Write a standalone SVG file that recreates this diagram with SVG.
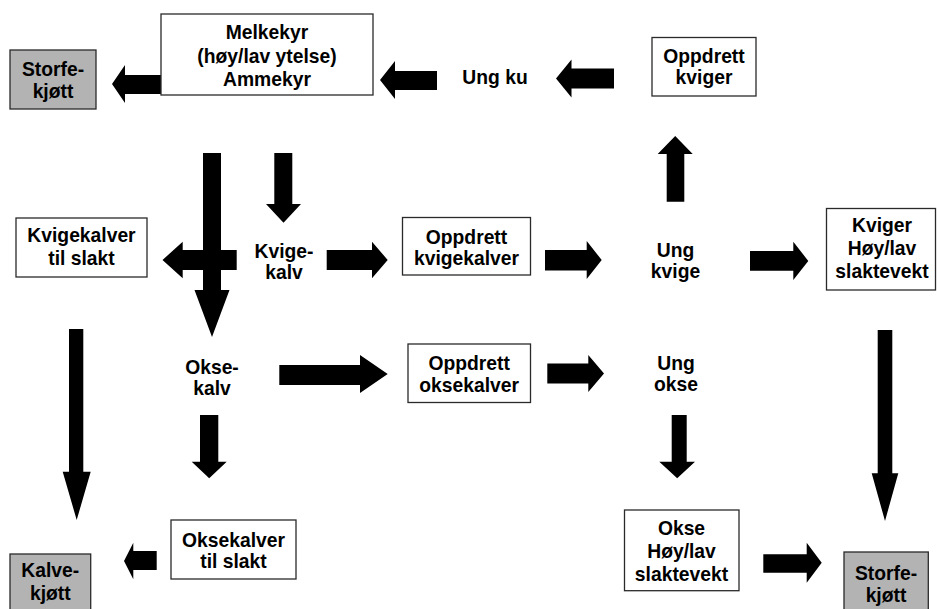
<svg xmlns="http://www.w3.org/2000/svg" width="937" height="609" viewBox="0 0 937 609">
  <style>
    .box { fill: #ffffff; stroke: #2a2a2a; stroke-width: 1.3; }
    .meat { fill: #b3b3b3; stroke: #2a2a2a; stroke-width: 1.3; }
    .lbl { font-family: "Liberation Sans", Arial, Helvetica, sans-serif; font-weight: bold; font-size: 19.3px; fill: #000; text-anchor: middle; }
    .arrow { fill: #000; stroke: none; }
  </style>

  <!-- block arrows: shaft + triangular head -->
  <g id="connectors">
    <!-- Melkekyr -> Storfekjøtt -->
    <polygon class="arrow" points="162,75 125,75 125,65 112,84 125,103 125,94 162,94"/>
    <!-- Ung ku -> Melkekyr -->
    <polygon class="arrow" points="437,71 395,71 395,61 380,80 395,99 395,90 437,90"/>
    <!-- Oppdrett kviger -> Ung ku -->
    <polygon class="arrow" points="614,68.5 571.5,68.5 571.5,59.5 556,78.5 571.5,97.5 571.5,88.5 614,88.5"/>
    <!-- Ung kvige -> Oppdrett kviger -->
    <polygon class="arrow" points="666.7,201.7 666.7,154 657.7,154 675.2,136 692.7,154 684.3,154 684.3,201.7"/>
    <!-- Melkekyr -> Oksekalv -->
    <polygon class="arrow" points="203,153 221,153 221,290 229.5,290 212,337 194.5,290 203,290"/>
    <!-- Melkekyr -> Kvigekalv -->
    <polygon class="arrow" points="274.3,153 292.3,153 292.3,204 301,204 283.5,222.7 266,204 274.3,204"/>
    <!-- Kvigekalv -> Kvigekalver til slakt -->
    <polygon class="arrow" points="236.7,250 182.7,250 182.7,241.7 162.5,260 182.7,278.3 182.7,270 236.7,270"/>
    <!-- Kvigekalv -> Oppdrett kvigekalver -->
    <polygon class="arrow" points="326.7,250 372,250 372,241.7 387.7,260 372,278.3 372,270 326.7,270"/>
    <!-- Oppdrett kvigekalver -> Ung kvige -->
    <polygon class="arrow" points="545,250 586.7,250 586.7,241 601.7,260 586.7,279 586.7,270.5 545,270.5"/>
    <!-- Ung kvige -> Kviger slaktevekt -->
    <polygon class="arrow" points="750,251 793.3,251 793.3,241.7 808.3,261 793.3,280 793.3,270.7 750,270.7"/>
    <!-- Oksekalv -> Oppdrett oksekalver -->
    <polygon class="arrow" points="279.3,365 360,365 360,355 387.7,374 360,393 360,385 279.3,385"/>
    <!-- Oppdrett oksekalver -> Ung okse -->
    <polygon class="arrow" points="547.3,363.5 588.3,363.5 588.3,355 604,373.5 588.3,392 588.3,383.5 547.3,383.5"/>
    <!-- Oksekalv -> Oksekalver til slakt -->
    <polygon class="arrow" points="200,415 218.3,415 218.3,461.7 226.7,461.7 209.2,478.3 191.7,461.7 200,461.7"/>
    <!-- Kvigekalver til slakt -> Kalvekjøtt -->
    <polygon class="arrow" points="69,329 83.3,329 83.3,471.7 90.7,471.7 76.7,520 62.7,471.7 69,471.7"/>
    <!-- Oksekalver til slakt -> Kalvekjøtt -->
    <polygon class="arrow" points="156.7,551 133.3,551 133.3,542.7 124,561 133.3,579.3 133.3,570 156.7,570"/>
    <!-- Ung okse -> Okse slaktevekt -->
    <polygon class="arrow" points="671.7,415 686.7,415 686.7,461.7 695,461.7 677.2,478.3 659.3,461.7 671.7,461.7"/>
    <!-- Kviger slaktevekt -> Storfekjøtt -->
    <polygon class="arrow" points="877.7,330 892.3,330 892.3,473.3 898.3,473.3 885,521 871.7,473.3 877.7,473.3"/>
    <!-- Okse slaktevekt -> Storfekjøtt -->
    <polygon class="arrow" points="763.3,554.3 806.7,554.3 806.7,542.7 821.7,562.7 806.7,582.7 806.7,572.7 763.3,572.7"/>
  </g>

  <g id="storfekjott-top">
    <rect class="meat" x="10" y="50" width="86" height="59"/>
    <text class="lbl" x="53" y="76">Storfe-</text>
    <text class="lbl" x="53" y="98">kjøtt</text>
  </g>

  <g id="melkekyr">
    <rect class="box" x="161" y="14" width="212" height="81"/>
    <text class="lbl" x="267" y="39">Melkekyr</text>
    <text class="lbl" x="267" y="63">(høy/lav ytelse)</text>
    <text class="lbl" x="267" y="86">Ammekyr</text>
  </g>

  <g id="ung-ku">
    <text class="lbl" x="495" y="83.5">Ung ku</text>
  </g>

  <g id="oppdrett-kviger">
    <rect class="box" x="652" y="37.5" width="104" height="58.5"/>
    <text class="lbl" x="704" y="62.5">Oppdrett</text>
    <text class="lbl" x="704" y="83.5">kviger</text>
  </g>

  <g id="kvigekalver-slakt">
    <rect class="box" x="16" y="218" width="131" height="59"/>
    <text class="lbl" x="81.5" y="242">Kvigekalver</text>
    <text class="lbl" x="81.5" y="265">til slakt</text>
  </g>

  <g id="kvigekalv">
    <text class="lbl" x="284" y="257.5">Kvige-</text>
    <text class="lbl" x="284" y="278.5">kalv</text>
  </g>

  <g id="oppdrett-kvigekalver">
    <rect class="box" x="402.5" y="217.5" width="128" height="57.5"/>
    <text class="lbl" x="466.5" y="243.5">Oppdrett</text>
    <text class="lbl" x="466.5" y="264.5">kvigekalver</text>
  </g>

  <g id="ung-kvige">
    <text class="lbl" x="675.5" y="257">Ung</text>
    <text class="lbl" x="675.5" y="278">kvige</text>
  </g>

  <g id="kviger-slaktevekt">
    <rect class="box" x="826.5" y="208.5" width="109" height="81.5"/>
    <text class="lbl" x="882" y="232">Kviger</text>
    <text class="lbl" x="882" y="255">Høy/lav</text>
    <text class="lbl" x="882" y="278">slaktevekt</text>
  </g>

  <g id="oksekalv">
    <text class="lbl" x="212" y="374">Okse-</text>
    <text class="lbl" x="212" y="395">kalv</text>
  </g>

  <g id="oppdrett-oksekalver">
    <rect class="box" x="408" y="344" width="122.5" height="58.5"/>
    <text class="lbl" x="469.2" y="369.5">Oppdrett</text>
    <text class="lbl" x="469.2" y="391.5">oksekalver</text>
  </g>

  <g id="ung-okse">
    <text class="lbl" x="676" y="370">Ung</text>
    <text class="lbl" x="676" y="391">okse</text>
  </g>

  <g id="oksekalver-slakt">
    <rect class="box" x="171" y="520" width="125" height="59"/>
    <text class="lbl" x="233.5" y="546.5">Oksekalver</text>
    <text class="lbl" x="233.5" y="568">til slakt</text>
  </g>

  <g id="kalvekjott">
    <rect class="meat" x="10" y="554" width="80.7" height="60"/>
    <text class="lbl" x="50.3" y="577">Kalve-</text>
    <text class="lbl" x="50.3" y="600">kjøtt</text>
  </g>

  <g id="okse-slaktevekt">
    <rect class="box" x="624.5" y="510" width="114.5" height="80.7"/>
    <text class="lbl" x="681.5" y="534.5">Okse</text>
    <text class="lbl" x="681.5" y="558">Høy/lav</text>
    <text class="lbl" x="681.5" y="581">slaktevekt</text>
  </g>

  <g id="storfekjott-bottom">
    <rect class="meat" x="844" y="552" width="84.3" height="62"/>
    <text class="lbl" x="886" y="580">Storfe-</text>
    <text class="lbl" x="886" y="601.5">kjøtt</text>
  </g>
</svg>
